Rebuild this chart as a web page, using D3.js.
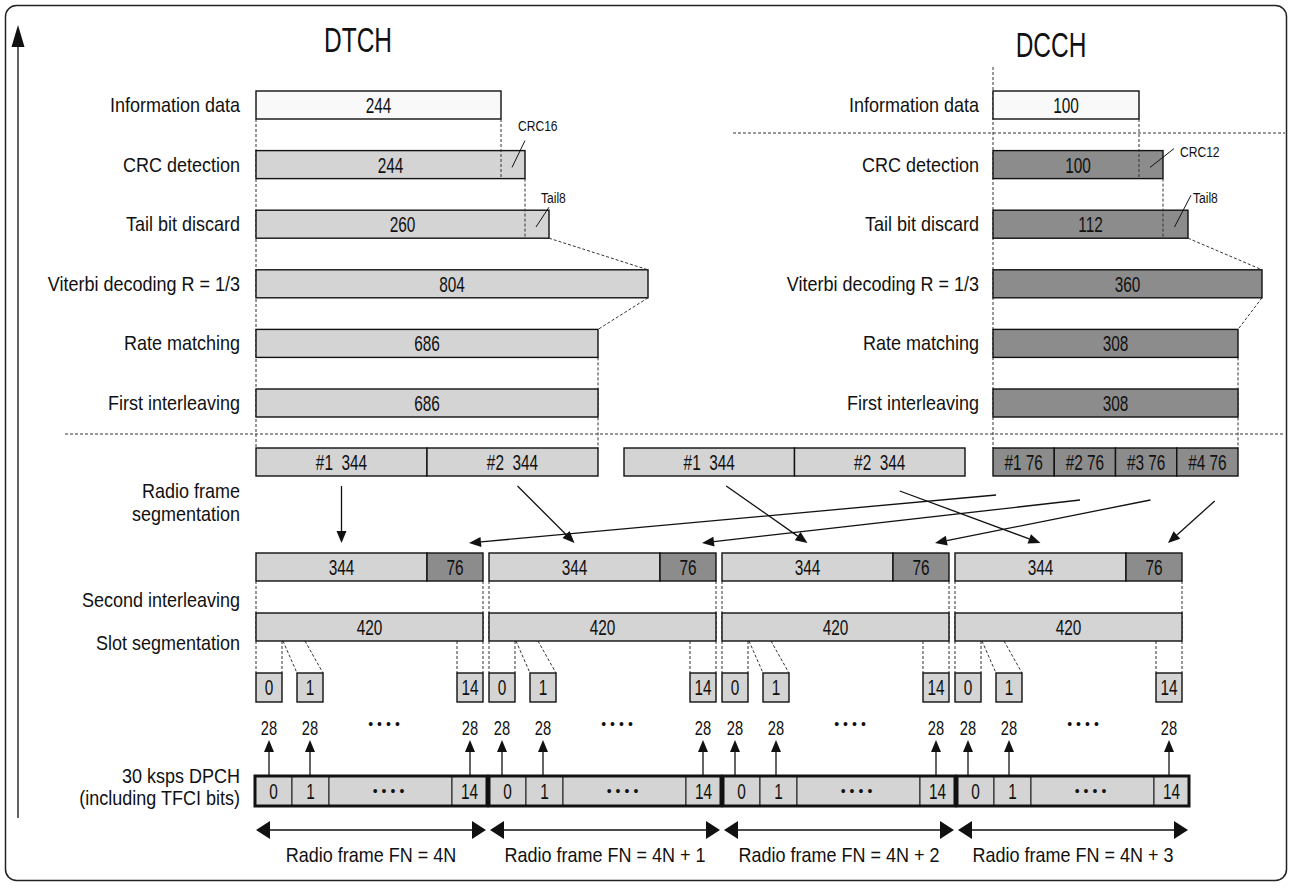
<!DOCTYPE html>
<html>
<head>
<meta charset="utf-8">
<script src="https://cdn.jsdelivr.net/npm/d3@7"></script>
<style>
  body { margin: 0; background: #fff; }
  text { font-family: "Liberation Sans", Arial, "DejaVu Sans", sans-serif; fill: #111; }
</style>
</head>
<body>
<svg id="chart" width="1292" height="890"></svg>
<script>
// ---------- data ----------
let steps = ['Information data', 'CRC detection', 'Tail bit discard', 'Viterbi decoding R = 1/3', 'Rate matching', 'First interleaving']
let dtchBits = [244, 244, 260, 804, 686, 686]
let dcchBits = [100, 100, 112, 360, 308, 308]
let dtchAdded = [null, 'CRC16', 'Tail8', null, null, null]
let dcchAdded = [null, 'CRC12', 'Tail8', null, null, null]
let dtchSegments = ['#1\u00a0\u00a0344', '#2\u00a0\u00a0344', '#1\u00a0\u00a0344', '#2\u00a0\u00a0344']
let dcchSegments = ['#1 76', '#2 76', '#3 76', '#4 76']
let frameParts = [344, 76]
let frameTotal = 420
let slotNames = ['0', '1', '14']
let slotBits = 28
let dpchCells = ['0', '1', '\u2022\u2022\u2022\u2022', '14']
let frameNames = ['Radio frame FN = 4N', 'Radio frame FN = 4N + 1', 'Radio frame FN = 4N + 2', 'Radio frame FN = 4N + 3']
// which segment goes to which radio frame
let dtchToFrame = [0, 1, 2, 3]
let dcchToFrame = [0, 1, 2, 3]

// ---------- layout ----------
let W = 1292
let lightFill = '#d4d4d4', darkFill = '#8c8c8c', whiteFill = '#f9f9f9'
let boxH = 28
let rowY = d3.scaleLinear().domain([0, steps.length - 1]).range([91, 389])
// right ends of the schematic boxes for each step, and where the added-bit tags sit
let dtchLayout = {
  left: 256, ends: [501, 525, 549, 648, 598, 598], labelX: 240, fill: lightFill,
  tags: [null, { dx: -7, y: 131, lx: 0, ly: -10 }, { dx: -8, y: 203, lx: 0, ly: -3 }]
}
let dcchLayout = {
  left: 993, ends: [1139, 1163, 1188, 1262, 1238, 1238], labelX: 979, fill: darkFill,
  tags: [null, { dx: 17, y: 157, lx: 11, ly: -2 }, { dx: 5, y: 203, lx: 3, ly: -15 }]
}
let segY = 448, frameY = 553, totalY = 613, slotY = 673, dpchY = 776
let frameX = d3.scaleLinear().domain([0, 1]).range([256, 489])   // frame i start
let frameW = 227, part76W = 56
let dpchX = d3.scaleLinear().domain([0, 1]).range([255, 489])
let dpchW = 232
let dpchCellEdges = [0, 37, 74, 197, 232]
let slotOffsets = [0, 41, 201], slotW = 26

let labelSize = 20, labelSx = 0.9
let numSize = 22, numSx = 0.7

let svg = d3.select('#chart')
let dash = '3,2'

function txt (g, x, y, s, size, anchor, sx) {
  return g.append('text').attr('transform', `translate(${x},${y}) scale(${sx || 1},1)`)
    .attr('text-anchor', anchor || 'middle').attr('font-size', size).text(s)
}
function box (g, x, y, w, h, fill, label, sw) {
  g.append('rect').attr('x', x).attr('y', y).attr('width', w).attr('height', h)
    .attr('fill', fill).attr('stroke', '#111').attr('stroke-width', sw || 1.4)
  if (label !== undefined) txt(g, x + w / 2, y + h / 2 + numSize * 0.36, label, numSize, 'middle', numSx)
}
function dline (g, x1, y1, x2, y2) {
  g.append('line').attr('x1', x1).attr('y1', y1).attr('x2', x2).attr('y2', y2)
    .attr('stroke', '#333').attr('stroke-width', 1).attr('stroke-dasharray', dash)
}
function arrow (g, x1, y1, x2, y2, size, half) {
  let a = Math.atan2(y2 - y1, x2 - x1)
  let bx = x2 - size * Math.cos(a), by = y2 - size * Math.sin(a)
  g.append('line').attr('x1', x1).attr('y1', y1).attr('x2', bx).attr('y2', by)
    .attr('stroke', '#111').attr('stroke-width', 1.3)
  let px = -Math.sin(a) * half, py = Math.cos(a) * half
  g.append('path').attr('d', `M${x2},${y2}L${bx + px},${by + py}L${bx - px},${by - py}Z`).attr('fill', '#111')
}
function label (x, y, s) { return txt(svg, x, y, s, labelSize, 'end', labelSx) }

// outer frame + vertical arrow
svg.append('rect').attr('x', 5.5).attr('y', 5.5).attr('width', W - 11).attr('height', 875)
  .attr('rx', 11).attr('fill', 'none').attr('stroke', '#222').attr('stroke-width', 1.5)
arrow(svg, 18, 818, 18, 25, 22, 6.5)

// titles
txt(svg, 358, 52, 'DTCH', 35, 'middle', 0.7)
txt(svg, 1051, 57, 'DCCH', 35, 'middle', 0.7)

// separators
let guides = svg.append('g')
dline(guides, 65, 434, 1285, 434)
dline(guides, 733, 133, 1285, 133)

// ---------- channel coding chains ----------
function drawChain (bits, added, L, topGuide) {
  let g = svg.append('g')
  let back = g.append('g'), front = g.append('g')
  dline(back, L.left, topGuide, L.left, segY)
  let last = steps.length - 1
  dline(back, L.ends[last], rowY(4) + boxH, L.ends[last], segY)
  steps.forEach((s, i) => {
    let y = rowY(i)
    box(front, L.left, y, L.ends[i] - L.left, boxH, i === 0 ? whiteFill : L.fill, bits[i])
    txt(front, L.labelX, y + boxH / 2 + 7, s, labelSize, 'end', labelSx)
    if (added[i]) {
      let px = L.ends[i - 1], t = L.tags[i]
      dline(front, px, rowY(i - 1) + boxH, px, y + boxH)
      let mx = (px + L.ends[i]) / 2
      front.append('line').attr('x1', mx - 1).attr('y1', y + boxH * 0.6)
        .attr('x2', L.ends[i] + t.lx).attr('y2', y + t.ly)
        .attr('stroke', '#111').attr('stroke-width', 1)
      txt(front, L.ends[i] + t.dx, t.y, added[i], 15.5, 'start', 0.78)
    }
  })
  // widening / narrowing connectors
  dline(front, L.ends[2], rowY(2) + boxH, L.ends[3], rowY(3))
  dline(front, L.ends[3], rowY(3) + boxH, L.ends[4], rowY(4))
  return g
}
drawChain(dtchBits, dtchAdded, dtchLayout, rowY(0) + boxH)
drawChain(dcchBits, dcchAdded, dcchLayout, 67)

// ---------- radio frame segmentation ----------
let back = svg.append('g'), seg = svg.append('g')
let dtchTTI = [[dtchLayout.left, dtchLayout.ends[5]], [624, 965]]
let dtchSegBoxes = []
dtchSegments.forEach((s, i) => {
  let t = dtchTTI[Math.floor(i / 2)], w = (t[1] - t[0]) / 2
  let x = t[0] + (i % 2) * w
  dtchSegBoxes.push({ x: x, w: w })
  box(seg, x, segY, w, boxH, lightFill, s)
})
let dcchSegBoxes = []
dcchSegments.forEach((s, i) => {
  let w = (dcchLayout.ends[5] - dcchLayout.left) / dcchSegments.length
  let x = dcchLayout.left + i * w
  dcchSegBoxes.push({ x: x, w: w })
  box(seg, x, segY, w, boxH, darkFill, s)
})
label(240, 498, 'Radio frame')
label(240, 521, 'segmentation')

// arrows segment -> frame
let dtchStartDx = [0, 5, 17, 20]
dtchSegments.forEach((s, i) => {
  let b = dtchSegBoxes[i], f = frameX(dtchToFrame[i])
  let tx = f + (frameW - part76W) / 2
  arrow(seg, b.x + b.w / 2 + dtchStartDx[i], segY + boxH + 10 + (i === 3 ? 5 : 0), tx, frameY - 10, 12, 5)
})
let dcchStart = [[0.05, 19], [0.42, 24], [0.57, 24], [0.62, 25]]
dcchSegments.forEach((s, i) => {
  let b = dcchSegBoxes[i], f = frameX(dcchToFrame[i])
  let tx = f + frameW - part76W / 2 + 14
  arrow(seg, b.x + b.w * dcchStart[i][0], segY + boxH + dcchStart[i][1], tx, frameY - 10, 12, 5)
})

// ---------- radio frames, second interleaving, slots ----------
frameNames.forEach((n, i) => {
  let x0 = frameX(i)
  dline(back, x0, frameY + boxH, x0, slotY)
  dline(back, x0 + frameW, frameY + boxH, x0 + frameW, slotY)
  box(seg, x0, frameY, frameW - part76W, boxH, lightFill, frameParts[0])
  box(seg, x0 + frameW - part76W, frameY, part76W, boxH, darkFill, frameParts[1])
  box(seg, x0, totalY, frameW, boxH, lightFill, frameTotal)
  // slot segmentation guides
  let yb = totalY + boxH
  dline(back, x0 + slotW, yb, x0 + slotW, slotY)
  dline(back, x0 + slotW + 1, yb, x0 + slotOffsets[1], slotY)
  dline(back, x0 + slotOffsets[1] + 8, yb, x0 + slotOffsets[1] + slotW, slotY)
  dline(back, x0 + slotOffsets[2], yb, x0 + slotOffsets[2], slotY)
  slotNames.forEach((s, k) => {
    let sx = x0 + slotOffsets[k]
    box(seg, sx, slotY, slotW, 29, lightFill, s)
    let cx = sx + slotW / 2
    txt(seg, cx, 735, slotBits, 21, 'middle', 0.7)
    arrow(seg, cx, dpchY, cx, 740, 12, 5)
  })
  txt(seg, x0 + 130, 729, '\u2022\u2022\u2022\u2022', 14, 'middle', 1).attr('letter-spacing', 4)
})
label(240, 607, 'Second interleaving')
label(240, 650, 'Slot segmentation')

// ---------- DPCH ----------
let dp = svg.append('g')
frameNames.forEach((n, i) => {
  let x0 = dpchX(i)
  dpchCells.forEach((c, k) => {
    let x = x0 + dpchCellEdges[k], w = dpchCellEdges[k + 1] - dpchCellEdges[k]
    dp.append('rect').attr('x', x).attr('y', dpchY).attr('width', w).attr('height', 30)
      .attr('fill', lightFill).attr('stroke', '#1a1a1a').attr('stroke-width', 1)
    if (k === 2) txt(dp, x + w / 2, dpchY + 20, c, 14, 'middle', 1).attr('letter-spacing', 4)
    else txt(dp, x + w / 2, dpchY + 23, c, numSize, 'middle', numSx)
  })
  dp.append('rect').attr('x', x0).attr('y', dpchY).attr('width', dpchW).attr('height', 30)
    .attr('fill', 'none').attr('stroke', '#111').attr('stroke-width', 3)
  // frame span arrows
  let ay = 830
  dp.append('line').attr('x1', x0 + 14).attr('y1', ay).attr('x2', x0 + dpchW - 14).attr('y2', ay)
    .attr('stroke', '#111').attr('stroke-width', 1.5)
  dp.append('path').attr('d', `M${x0 + 1},${ay}L${x0 + 15},${ay - 9}L${x0 + 15},${ay + 9}Z`).attr('fill', '#111')
  dp.append('path').attr('d', `M${x0 + dpchW - 1},${ay}L${x0 + dpchW - 15},${ay - 9}L${x0 + dpchW - 15},${ay + 9}Z`).attr('fill', '#111')
  txt(dp, x0 + dpchW / 2, 862, n, labelSize, 'middle', labelSx)
})
label(240, 783, '30 ksps DPCH')
label(240, 805, '(including TFCI bits)')
</script>
</body>
</html>
